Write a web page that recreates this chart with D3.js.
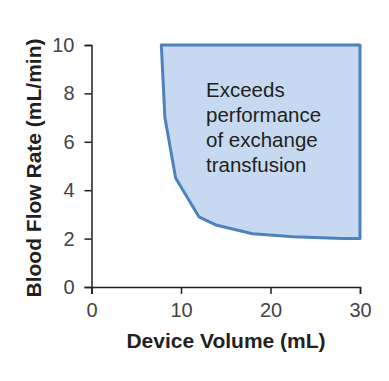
<!DOCTYPE html>
<html><head><meta charset="utf-8">
<script src="https://cdn.jsdelivr.net/npm/d3@7"></script>
<style>
html,body{margin:0;padding:0;background:#fff;}
svg{display:block;}
text{font-family:"Liberation Sans",Arial,sans-serif;}
</style></head>
<body>
<svg id="chart" width="389" height="381"></svg>
<script>
// Boundary of region (device volume mL, blood flow rate mL/min)
const boundaryVolume = [7.8, 8.2, 9.4, 12, 14, 18, 22.5, 28, 30];
const boundaryFlow   = [10, 7.0, 4.5, 2.9, 2.55, 2.2, 2.08, 2.0, 2.0];
const xTicks = [0, 10, 20, 30];
const yTicks = [0, 2, 4, 6, 8, 10];
const labelLines = ["Exceeds", "performance", "of exchange", "transfusion"];

const svg = d3.select("#chart");
const x = d3.scaleLinear().domain([0, 30]).range([91.5, 360]);
const y = d3.scaleLinear().domain([0, 10]).range([287, 45]);

// region polygon: curve then top-right corner
const pts = boundaryVolume.map((v, i) => [v, boundaryFlow[i]]);
pts.push([30, 10]);
svg.append("path")
  .attr("d", d3.line().x(d => x(d[0])).y(d => y(d[1]))(pts) + "Z")
  .attr("fill", "#c6d9f0")
  .attr("stroke", "#4f81bd")
  .attr("stroke-width", 3)
  .attr("stroke-linejoin", "round");

// label
const lbl = svg.append("text").attr("fill", "#231f20").attr("font-size", 20.5)
  .style("font-family", "'Liberation Sans', Arial, sans-serif");
labelLines.forEach((t, i) => {
  lbl.append("tspan").attr("x", 206).attr("y", 97 + i * 25).text(t);
});

// axes
const xAxis = svg.append("g").attr("transform", `translate(0,${y(0)})`)
  .call(d3.axisBottom(x).tickValues(xTicks).tickSizeOuter(0).tickSize(7).tickPadding(6));
const yAxis = svg.append("g").attr("transform", `translate(${x(0)},0)`)
  .call(d3.axisLeft(y).tickValues(yTicks).tickSizeOuter(0).tickSize(7).tickPadding(10));
[xAxis, yAxis].forEach(g => {
  g.attr("font-size", 20).attr("font-family", "'Liberation Sans', Arial, sans-serif");
  g.select(".domain").attr("stroke", "#231f20").attr("stroke-width", 1.5);
  g.selectAll(".tick line").attr("stroke", "#231f20").attr("stroke-width", 1.5);
  g.selectAll(".tick text").attr("fill", "#444");
});
xAxis.selectAll(".tick text").attr("dy", "0.85em");

// axis titles
svg.append("text").attr("x", 226).attr("y", 348).attr("text-anchor", "middle")
  .attr("font-weight", "bold").attr("font-size", 21).attr("fill", "#231f20")
  .text("Device Volume (mL)");
svg.append("text").attr("transform", "translate(41,168) rotate(-90)")
  .attr("text-anchor", "middle").attr("font-weight", "bold").attr("font-size", 21)
  .attr("fill", "#231f20").text("Blood Flow Rate (mL/min)");
</script>
</body></html>
